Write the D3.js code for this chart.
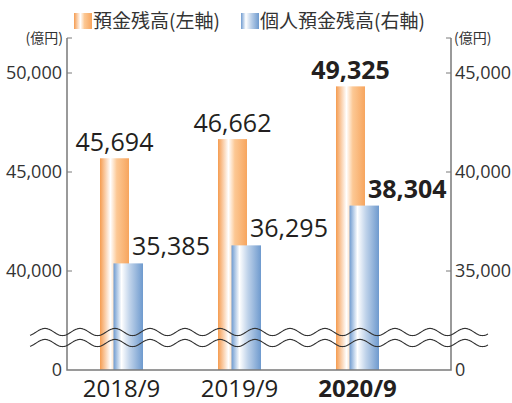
<!DOCTYPE html>
<html>
<head>
<meta charset="utf-8">
<script src="https://cdn.jsdelivr.net/npm/d3@7"></script>
<style>
  body { margin: 0; background: #fff; }
  svg text { font-family: "Open Sans", "Noto Sans", sans-serif; fill: #231f20; }
  .cjk { font-family: "Noto Sans CJK JP", "Noto Sans CJK SC", sans-serif; }
</style>
</head>
<body>
<div id="chart"></div>
<script>
// data
var categories = ["2018/9", "2019/9", "2020/9"];
var deposits = [45694, 46662, 49325];          // 預金残高 (left axis)
var personal = [35385, 36295, 38304];          // 個人預金残高 (right axis)
var leftTicks = [40000, 45000, 50000];
var rightTicks = [35000, 40000, 45000];
var legendLabels = ["預金残高(左軸)", "個人預金残高(右軸)"];
var unitLabel = "(億円)";

var width = 512, height = 403;
var margin = {top: 38, right: 61, bottom: 33, left: 67};
var x0 = margin.left, x1 = width - margin.right,
    yTop = margin.top, yBase = height - margin.bottom;

var svg = d3.select("#chart").append("svg")
    .attr("width", width)
    .attr("height", height);

// broken scales: 0 at baseline, then a linear piece for the upper part
var k = 0.0198; // px per unit
var yL = d3.scaleLinear()
    .domain([0, 36000, 50000])
    .range([yBase, 271 + 4000 * k, 271 - 10000 * k]);
var yR = d3.scaleLinear()
    .domain([0, 31000, 45000])
    .range([yBase, 271 + 4000 * k, 271 - 10000 * k]);

var x = d3.scalePoint().domain(categories).range([121.5, 357.5]);
var barW = 29;

// gradients
var defs = svg.append("defs");
function grad(id, stops) {
    var g = defs.append("linearGradient").attr("id", id)
        .attr("x1", "0%").attr("x2", "100%").attr("y1", "0%").attr("y2", "0%");
    stops.forEach(function (s) {
        g.append("stop").attr("offset", s[0]).attr("stop-color", s[1]);
    });
}
grad("gOrange", [["0%", "#f59c50"], ["36%", "#ffffff"], ["58%", "#fcc894"], ["100%", "#f7a55e"]]);
grad("gBlue", [["0%", "#6f9bd0"], ["27%", "#ffffff"], ["55%", "#c0d3ea"], ["100%", "#6e9ace"]]);

// bars
svg.selectAll(".bar-o").data(deposits).enter().append("rect")
    .attr("class", "bar-o")
    .attr("x", function (d, i) { return x(categories[i]) - 21.5; })
    .attr("y", function (d) { return yL(d); })
    .attr("width", barW)
    .attr("height", function (d) { return yL(0) - yL(d); })
    .attr("fill", "url(#gOrange)");

svg.selectAll(".bar-b").data(personal).enter().append("rect")
    .attr("class", "bar-b")
    .attr("x", function (d, i) { return x(categories[i]) - 8; })
    .attr("y", function (d) { return yR(d); })
    .attr("width", barW + 0.5)
    .attr("height", function (d) { return yR(0) - yR(d); })
    .attr("fill", "url(#gBlue)");

// axes lines
var axisColor = "#7a7a7a";
svg.append("path")
    .attr("d", "M" + x0 + "," + yTop + "V" + yBase + "H" + x1 + "V" + yTop)
    .attr("fill", "none").attr("stroke", axisColor).attr("stroke-width", 1.5);

// left ticks (pointing inward) + top end tick
svg.selectAll(".tl").data([0].concat(leftTicks)).enter().append("line")
    .attr("x1", x0).attr("x2", x0 + 5)
    .attr("y1", function (d, i) { return i === 0 ? yTop : yL(d); })
    .attr("y2", function (d, i) { return i === 0 ? yTop : yL(d); })
    .attr("stroke", axisColor).attr("stroke-width", 1);
svg.selectAll(".tr").data([0].concat(rightTicks)).enter().append("line")
    .attr("x1", x1 - 5).attr("x2", x1)
    .attr("y1", function (d, i) { return i === 0 ? yTop : yR(d); })
    .attr("y2", function (d, i) { return i === 0 ? yTop : yR(d); })
    .attr("stroke", axisColor).attr("stroke-width", 1);

var fmt = d3.format(",");
svg.selectAll(".ll").data([0].concat(leftTicks)).enter().append("text")
    .attr("x", x0 - 5)
    .attr("y", function (d) { return yL(d); })
    .attr("dy", "0.36em")
    .attr("text-anchor", "end")
    .style("font-size", "18px")
    .style("fill", "#333")
    .text(function (d) { return fmt(d); });
svg.selectAll(".rl").data([0].concat(rightTicks)).enter().append("text")
    .attr("x", x1 + 4)
    .attr("y", function (d) { return yR(d); })
    .attr("dy", "0.36em")
    .style("font-size", "18px")
    .style("fill", "#333")
    .text(function (d) { return fmt(d); });

// units
svg.append("text").attr("class", "cjk")
    .attr("x", x0 - 4).attr("y", yTop).attr("dy", "0.35em")
    .attr("text-anchor", "end")
    .style("font-size", "14px").style("fill", "#333")
    .text(unitLabel);
svg.append("text").attr("class", "cjk")
    .attr("x", x1 + 3).attr("y", yTop).attr("dy", "0.35em")
    .style("font-size", "14px").style("fill", "#333")
    .text(unitLabel);

// break waves
function wave(cy) {
    var pts = d3.range(30, 489, 1).map(function (px) {
        return [px, cy - 3.6 * Math.cos(2 * Math.PI * (px - 45) / 35)];
    });
    return d3.line().curve(d3.curveBasis)(pts);
}
[332, 343].forEach(function (cy) {
    svg.append("path").attr("d", wave(cy))
        .attr("fill", "none").attr("stroke", "#333").attr("stroke-width", 1.1);
});

// value labels
var last = categories.length - 1;
svg.selectAll(".vo").data(deposits).enter().append("text")
    .attr("x", function (d, i) { return x(categories[i]) - 7; })
    .attr("y", function (d) { return yL(d) - 7; })
    .attr("text-anchor", "middle")
    .style("font-size", "25px")
    .style("font-weight", function (d, i) { return i === last ? "bold" : "normal"; })
    .text(function (d) { return fmt(d); });
svg.selectAll(".vb").data(personal).enter().append("text")
    .attr("x", function (d, i) { return x(categories[i]) + 10.5; })
    .attr("y", function (d) { return yR(d) - 8; })
    .style("font-size", "25px")
    .style("font-weight", function (d, i) { return i === last ? "bold" : "normal"; })
    .text(function (d) { return fmt(d); });

// category labels
svg.selectAll(".cat").data(categories).enter().append("text")
    .attr("x", function (d) { return x(d); })
    .attr("y", 397)
    .attr("text-anchor", "middle")
    .style("font-size", "24px")
    .style("font-weight", function (d, i) { return i === last ? "bold" : "normal"; })
    .text(function (d) { return d; });

// legend
var legend = svg.append("g");
var lx = [74, 241];
legendLabels.forEach(function (t, i) {
    legend.append("rect")
        .attr("x", lx[i]).attr("y", 13).attr("width", 18).attr("height", 16)
        .attr("fill", i === 0 ? "url(#gOrange)" : "url(#gBlue)");
    legend.append("text").attr("class", "cjk")
        .attr("x", lx[i] + 19).attr("y", 21).attr("dy", "0.36em")
        .style("font-size", "19px").style("fill", "#333")
        .text(t);
});
</script>
</body>
</html>
